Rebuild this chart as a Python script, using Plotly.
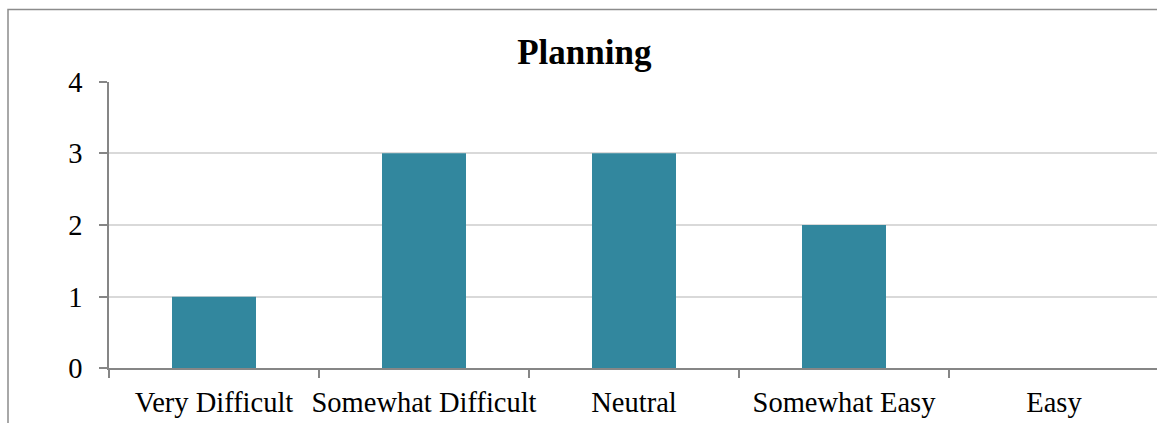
import plotly.graph_objects as go

# Survey responses for the "Planning" question
categories = ["Very Difficult", "Somewhat Difficult", "Neutral", "Somewhat Easy", "Easy"]
counts = [1, 3, 3, 2, 0]
y_ticks = [0, 1, 2, 3, 4]

W, H = 1157, 423
BAR = "#32879e"
AXIS = "#868686"
GRID = "#d9d9d9"
FONT = "Liberation Serif, Times New Roman, serif"

fig = go.Figure(
    go.Bar(
        x=categories,
        y=counts,
        marker=dict(color=BAR, line=dict(width=0)),
        width=0.4,
        hoverinfo="x+y",
    )
)

fig.update_layout(
    width=W,
    height=H,
    margin=dict(l=0, r=0, t=0, b=0, autoexpand=False),
    paper_bgcolor="white",
    plot_bgcolor="white",
    showlegend=False,
    font=dict(family=FONT, size=28.5, color="black"),
    title=dict(
        text="<b>Planning</b>",
        font=dict(family=FONT, size=35, color="black"),
        x=0.505,
        xanchor="center",
        y=0.877,
        yanchor="middle",
        automargin=False,
    ),
    xaxis=dict(
        domain=[109 / W, 1],
        range=[-0.5, -0.5 + (W - 109) / 210],
        type="category",
        automargin=False,
        tickangle=0,
        showline=True,
        linecolor=AXIS,
        linewidth=1.5,
        ticks="outside",
        tickson="boundaries",
        ticklen=8,
        tickcolor=AXIS,
        tickwidth=1.5,
        showgrid=False,
        ticklabelstandoff=8,
        tickfont=dict(family=FONT, size=28.5, color="black"),
    ),
    yaxis=dict(
        domain=[(H - 368.3) / H, (H - 81.7) / H],
        range=[0, 4],
        tickvals=y_ticks,
        automargin=False,
        showline=True,
        linecolor=AXIS,
        linewidth=1.5,
        ticks="outside",
        ticklen=8,
        tickcolor=AXIS,
        tickwidth=1.5,
        showgrid=True,
        gridcolor=GRID,
        gridwidth=1.5,
        zeroline=False,
        ticklabelstandoff=11,
        tickfont=dict(family=FONT, size=28.5, color="black"),
    ),
    shapes=[
        # chart frame (left and top edges)
        dict(
            type="path",
            xref="paper",
            yref="paper",
            path=f"M {8 / W} -0.05 L {8 / W} {(H - 9.5) / H} L 1.05 {(H - 9.5) / H}",
            line=dict(color="#8c8c8c", width=1.5),
            layer="above",
        )
    ],
)

fig.write_html("out.html")
